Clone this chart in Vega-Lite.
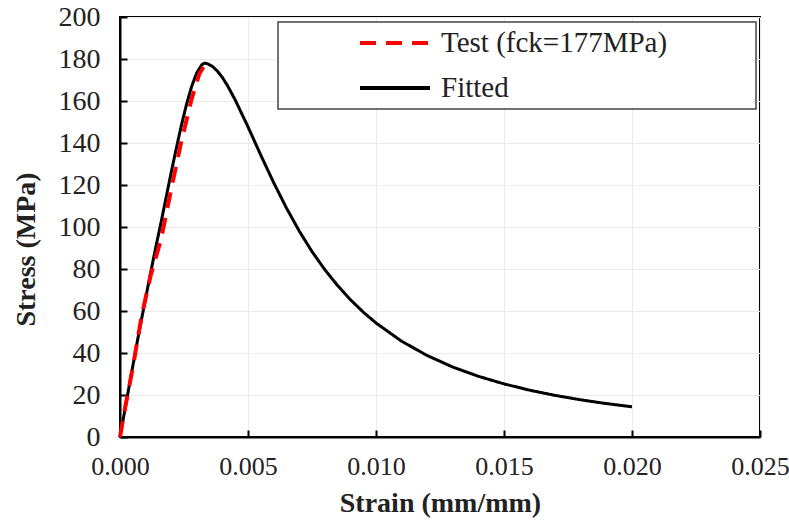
{
  "$schema": "https://vega.github.io/schema/vega-lite/v6.json",
  "width": 640,
  "height": 420,
  "autosize": "none",
  "padding": {"left": 120, "top": 17, "right": 29, "bottom": 84},
  "background": "white",
  "config": {
    "view": {"stroke": "black", "strokeWidth": 2},
    "style": {
      "guide-label": {"font": "Liberation Serif"},
      "guide-title": {"font": "Liberation Serif"}
    },
    "axis": {
      "labelColor": "#222",
      "titleColor": "#222",
      "domainColor": "black",
      "domainWidth": 2,
      "tickColor": "black",
      "tickWidth": 2,
      "tickSize": -7,
      "gridColor": "#ebebeb",
      "gridWidth": 1
    },
    "legend": {
      "labelFont": "Liberation Serif",
      "labelFontSize": 29,
      "labelColor": "#222",
      "labelLimit": 600
    }
  },
  "data": {
    "values": [
      {"series": "Fitted", "strain": 0.0, "stress": 0},
      {"series": "Fitted", "strain": 0.0002, "stress": 13.5},
      {"series": "Fitted", "strain": 0.0004, "stress": 27},
      {"series": "Fitted", "strain": 0.0006, "stress": 40.5},
      {"series": "Fitted", "strain": 0.0008, "stress": 53.5},
      {"series": "Fitted", "strain": 0.001, "stress": 66},
      {"series": "Fitted", "strain": 0.0012, "stress": 78.5},
      {"series": "Fitted", "strain": 0.0014, "stress": 90.5},
      {"series": "Fitted", "strain": 0.0016, "stress": 102},
      {"series": "Fitted", "strain": 0.0018, "stress": 114},
      {"series": "Fitted", "strain": 0.002, "stress": 126},
      {"series": "Fitted", "strain": 0.0022, "stress": 137.5},
      {"series": "Fitted", "strain": 0.0024, "stress": 148.5},
      {"series": "Fitted", "strain": 0.0026, "stress": 158.5},
      {"series": "Fitted", "strain": 0.0028, "stress": 167},
      {"series": "Fitted", "strain": 0.003, "stress": 173.5},
      {"series": "Fitted", "strain": 0.0032, "stress": 177.3},
      {"series": "Fitted", "strain": 0.0033, "stress": 178},
      {"series": "Fitted", "strain": 0.0034, "stress": 177.8},
      {"series": "Fitted", "strain": 0.0036, "stress": 176.6},
      {"series": "Fitted", "strain": 0.0038, "stress": 174.3},
      {"series": "Fitted", "strain": 0.004, "stress": 171.2},
      {"series": "Fitted", "strain": 0.0042, "stress": 167.3},
      {"series": "Fitted", "strain": 0.0045, "stress": 160.5},
      {"series": "Fitted", "strain": 0.005, "stress": 147.7},
      {"series": "Fitted", "strain": 0.0055, "stress": 134.2},
      {"series": "Fitted", "strain": 0.006, "stress": 121.2},
      {"series": "Fitted", "strain": 0.0065, "stress": 109.1},
      {"series": "Fitted", "strain": 0.007, "stress": 98.1},
      {"series": "Fitted", "strain": 0.0075, "stress": 88.3},
      {"series": "Fitted", "strain": 0.008, "stress": 79.7},
      {"series": "Fitted", "strain": 0.0085, "stress": 72.1},
      {"series": "Fitted", "strain": 0.009, "stress": 65.4},
      {"series": "Fitted", "strain": 0.0095, "stress": 59.5},
      {"series": "Fitted", "strain": 0.01, "stress": 54.3},
      {"series": "Fitted", "strain": 0.011, "stress": 45.6},
      {"series": "Fitted", "strain": 0.012, "stress": 38.8},
      {"series": "Fitted", "strain": 0.013, "stress": 33.3},
      {"series": "Fitted", "strain": 0.014, "stress": 28.9},
      {"series": "Fitted", "strain": 0.015, "stress": 25.3},
      {"series": "Fitted", "strain": 0.016, "stress": 22.3},
      {"series": "Fitted", "strain": 0.017, "stress": 19.8},
      {"series": "Fitted", "strain": 0.018, "stress": 17.7},
      {"series": "Fitted", "strain": 0.019, "stress": 15.9},
      {"series": "Fitted", "strain": 0.02, "stress": 14.4},
      {"series": "Test (fck=177MPa)", "strain": 0.0, "stress": 0},
      {"series": "Test (fck=177MPa)", "strain": 0.0002, "stress": 14},
      {"series": "Test (fck=177MPa)", "strain": 0.0005, "stress": 33},
      {"series": "Test (fck=177MPa)", "strain": 0.00085, "stress": 58},
      {"series": "Test (fck=177MPa)", "strain": 0.0012, "stress": 77},
      {"series": "Test (fck=177MPa)", "strain": 0.0016, "stress": 94},
      {"series": "Test (fck=177MPa)", "strain": 0.002, "stress": 118},
      {"series": "Test (fck=177MPa)", "strain": 0.0024, "stress": 141},
      {"series": "Test (fck=177MPa)", "strain": 0.0028, "stress": 161},
      {"series": "Test (fck=177MPa)", "strain": 0.0031, "stress": 173},
      {"series": "Test (fck=177MPa)", "strain": 0.0033, "stress": 177}
    ]
  },
  "encoding": {
    "x": {
      "field": "strain",
      "type": "quantitative",
      "title": "Strain (mm/mm)",
      "scale": {"domain": [0, 0.025], "nice": false},
      "axis": {
        "values": [0, 0.005, 0.01, 0.015, 0.02, 0.025],
        "format": ".3f",
        "labelFont": "Liberation Serif",
        "labelFontSize": 26,
        "titleFont": "Liberation Serif",
        "titleFontSize": 28,
        "titleFontWeight": "bold",
        "labelPadding": 23,
        "titlePadding": 10,
        "labelFlush": false
      }
    },
    "y": {
      "field": "stress",
      "type": "quantitative",
      "title": "Stress (MPa)",
      "scale": {"domain": [0, 200], "nice": false},
      "axis": {
        "values": [0, 20, 40, 60, 80, 100, 120, 140, 160, 180, 200],
        "labelFont": "Liberation Serif",
        "labelFontSize": 28,
        "titleFont": "Liberation Serif",
        "titleFontSize": 28,
        "titleFontWeight": "bold",
        "labelPadding": 27,
        "titleX": -80,
        "titleY": 232
      }
    },
    "color": {
      "field": "series",
      "type": "nominal",
      "scale": {"domain": ["Test (fck=177MPa)", "Fitted"], "range": ["#ff0000", "#000000"]},
      "legend": {
        "title": null,
        "orient": "none",
        "legendX": 158,
        "legendY": 5,
        "padding": 1,
        "strokeColor": "#444",
        "fillColor": "white",
        "symbolType": "stroke",
        "symbolSize": 4900,
        "symbolStrokeWidth": 4,
        "symbolOffset": 79,
        "labelOffset": 9,
        "clipHeight": 40,
        "rowPadding": 5,
        "labelExpr": "datum.label + '\u2003\u2003\u2003\u200b'",
        "encode": {"legend": {"update": {"strokeWidth": {"value": 1.5}}}}
      }
    },
    "strokeDash": {
      "field": "series",
      "type": "nominal",
      "scale": {"domain": ["Test (fck=177MPa)", "Fitted"], "range": [[16, 10], [1, 0]]},
      "legend": null
    }
  },
  "layer": [
    {
      "transform": [{"filter": "datum.series === 'Fitted'"}],
      "mark": {"type": "line", "strokeWidth": 3}
    },
    {
      "transform": [{"filter": "datum.series !== 'Fitted'"}],
      "mark": {"type": "line", "strokeWidth": 4}
    }
  ]
}
